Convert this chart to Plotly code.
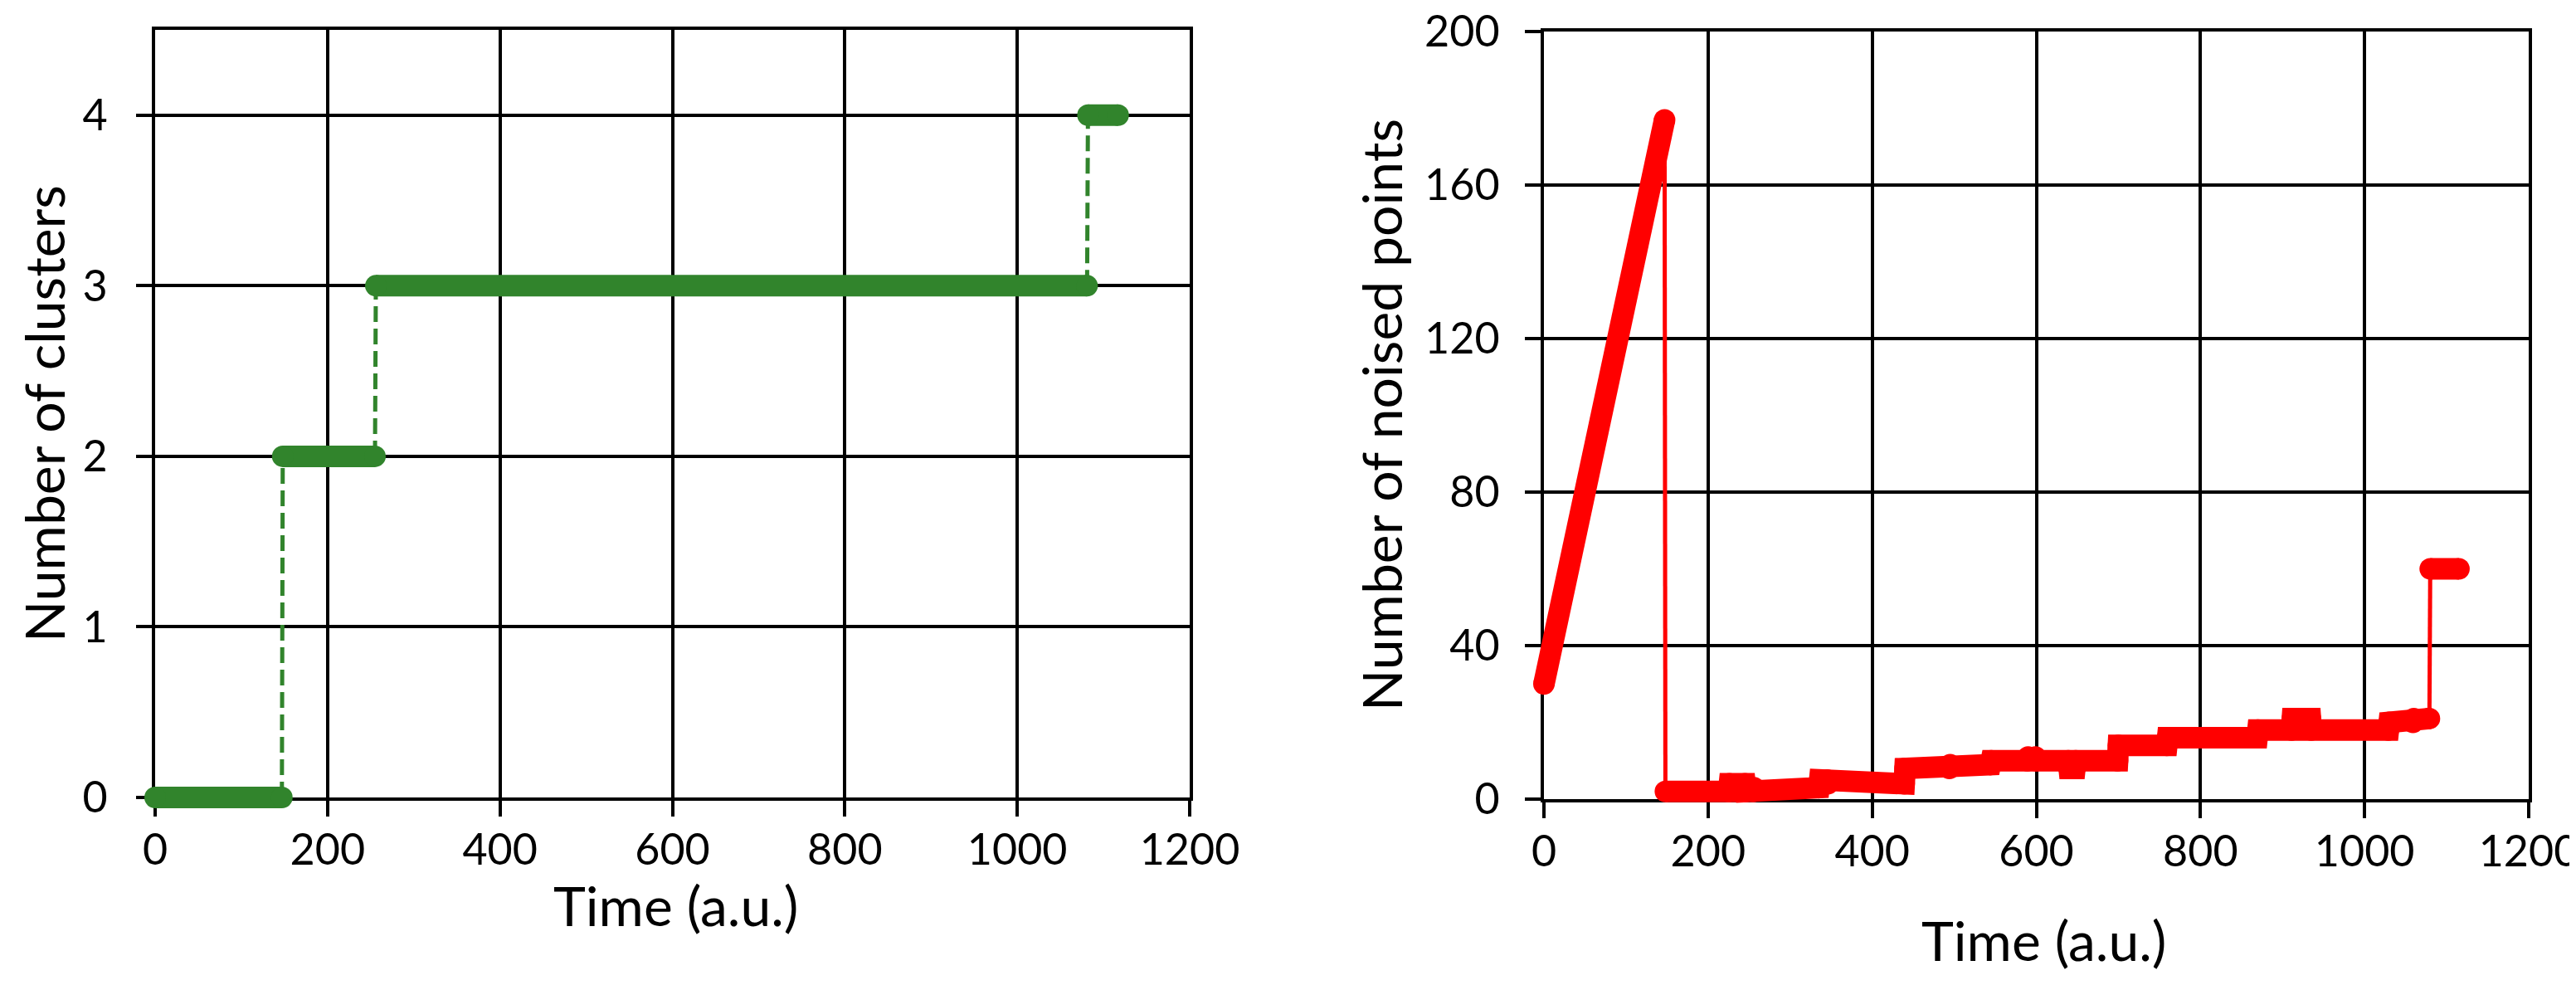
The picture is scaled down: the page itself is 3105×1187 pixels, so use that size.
import plotly.graph_objects as go

# ---------------- data ----------------
time_ticks = [0, 200, 400, 600, 800, 1000, 1200]
cluster_ticks = [0, 1, 2, 3, 4]
noise_ticks = [0, 40, 80, 120, 160, 200]

# Number of clusters: constant levels (start time, end time, value)
cluster_level_start = [0, 148, 256, 1082]
cluster_level_end = [147, 255, 1081, 1117]
cluster_level_value = [0, 2, 3, 4]

# Number of noised points
noise_rise_time = [0, 147]
noise_rise_count = [30, 177]
noise_step_time = [148, 226, 246, 256, 336, 346, 440, 495, 545, 590, 600, 640, 648,
                   700, 760, 870, 912, 935, 1030, 1060, 1079]
noise_step_count = [2, 4, 2, 3, 5, 4, 8, 9, 10, 11, 10, 8, 10,
                    14, 16, 18, 21, 18, 20, 21, 21]
noise_top_time = [1080, 1115]
noise_top_count = [60, 60]

# ---------------- styling ----------------
W, H = 3105, 1187
GREEN = "#31842C"
RED = "#FF0000"
FONT = "Lato"
BAND = 26        # thickness of the dense-marker band (px)
THIN = 5         # connector width (px)
GRID = 4
PAD = 40         # extra room so thick marks may spill over the axes

# plot areas in pixels: (left, right, top, bottom)
LEFT_BOX = (179, 1426, 28, 953)
RIGHT_BOX = (1853, 3040, 30, 955)
LEFT_XR, LEFT_YR = (0, 1200), (0, 4.5)
RIGHT_XR, RIGHT_YR = (0, 1200), (0, 200)


def fx(p):
    return p / W


def fy(p):
    return 1 - p / H


def padded(box, xr, yr):
    l, r, t, b = box
    pl, pr = min(PAD, l), min(PAD, W - r)
    pt, pb = min(PAD, t), min(PAD, H - b)
    kx = (r - l) / (xr[1] - xr[0])
    ky = (b - t) / (yr[1] - yr[0])
    xdom = [fx(l - pl), fx(r + pr)]
    ydom = [fy(b + pb), fy(t - pt)]
    xrng = [xr[0] - pl / kx, xr[1] + pr / kx]
    yrng = [yr[0] - pb / ky, yr[1] + pt / ky]
    return xdom, ydom, xrng, yrng


fig = go.Figure()

# empty traces so the visible frames (gridded axes) are built
fig.add_trace(go.Scatter(x=[], y=[], xaxis="x", yaxis="y", showlegend=False))
fig.add_trace(go.Scatter(x=[], y=[], xaxis="x2", yaxis="y2", showlegend=False))

# ---- left: clusters (drawn on overlay axes x3/y3) ----
cx, cy = [], []
for i in range(len(cluster_level_value) - 1):
    cx += [cluster_level_end[i], cluster_level_start[i + 1], None]
    cy += [cluster_level_value[i], cluster_level_value[i + 1], None]
fig.add_trace(go.Scatter(x=cx, y=cy, mode="lines", xaxis="x3", yaxis="y3",
                         line=dict(color=GREEN, width=THIN, dash="19px,8px"),
                         hoverinfo="skip", showlegend=False))
bx, by = [], []
for s, e, v in zip(cluster_level_start, cluster_level_end, cluster_level_value):
    bx += [s, e, None]
    by += [v, v, None]
fig.add_trace(go.Scatter(x=bx, y=by, mode="lines+markers", xaxis="x3", yaxis="y3",
                         line=dict(color=GREEN, width=BAND),
                         marker=dict(color=GREEN, size=BAND, line=dict(width=0)),
                         showlegend=False))

# ---- right: noised points (drawn on overlay axes x4/y4) ----
nx = [noise_rise_time[-1], noise_step_time[0], None, noise_step_time[-1], noise_top_time[0]]
ny = [noise_rise_count[-1], noise_step_count[0], None, noise_step_count[-1], noise_top_count[0]]
fig.add_trace(go.Scatter(x=nx, y=ny, mode="lines", xaxis="x4", yaxis="y4",
                         line=dict(color=RED, width=THIN),
                         hoverinfo="skip", showlegend=False))
fig.add_trace(go.Scatter(x=noise_rise_time, y=noise_rise_count, mode="lines+markers",
                         xaxis="x4", yaxis="y4",
                         line=dict(color=RED, width=BAND),
                         marker=dict(color=RED, size=BAND, line=dict(width=0)),
                         showlegend=False))
# step band: each change happens between one time unit and the next
sx, sy = [noise_step_time[0]], [noise_step_count[0]]
for i in range(1, len(noise_step_time)):
    sx += [noise_step_time[i] - 1, noise_step_time[i]]
    sy += [noise_step_count[i - 1], noise_step_count[i]]
fig.add_trace(go.Scatter(x=sx, y=sy, mode="lines+markers",
                         xaxis="x4", yaxis="y4",
                         line=dict(color=RED, width=BAND),
                         marker=dict(color=RED, size=BAND, line=dict(width=0)),
                         showlegend=False))
fig.add_trace(go.Scatter(x=noise_top_time, y=noise_top_count, mode="lines+markers",
                         xaxis="x4", yaxis="y4",
                         line=dict(color=RED, width=BAND),
                         marker=dict(color=RED, size=BAND, line=dict(width=0)),
                         showlegend=False))

axis_common = dict(
    showgrid=True, gridcolor="black", gridwidth=GRID,
    showline=True, linecolor="black", linewidth=GRID, mirror=True,
    zeroline=False, ticks="outside", ticklen=19, tickwidth=GRID, tickcolor="black",
    tickfont=dict(family=FONT, size=52, color="black"),
    fixedrange=True, automargin=False, ticklabeloverflow="allow",
)
hidden = dict(visible=False, showgrid=False, zeroline=False, fixedrange=True,
              automargin=False)

lxd, lyd, lxr, lyr = padded(LEFT_BOX, LEFT_XR, LEFT_YR)
rxd, ryd, rxr, ryr = padded(RIGHT_BOX, RIGHT_XR, RIGHT_YR)

title_font = dict(family=FONT, size=66, color="black")

fig.update_layout(
    template="none",
    width=W, height=H,
    margin=dict(l=0, r=0, t=0, b=0, pad=0, autoexpand=False),
    paper_bgcolor="white", plot_bgcolor="rgba(0,0,0,0)",
    font=dict(family=FONT, color="black"),
    xaxis=dict(domain=[fx(LEFT_BOX[0]), fx(LEFT_BOX[1])], range=list(LEFT_XR),
               tickvals=time_ticks, anchor="y", ticklabelstandoff=-4, **axis_common),
    yaxis=dict(domain=[fy(LEFT_BOX[3]), fy(LEFT_BOX[2])], range=list(LEFT_YR),
               tickvals=cluster_ticks, anchor="x", ticklabelstandoff=24, **axis_common),
    xaxis2=dict(domain=[fx(RIGHT_BOX[0]), fx(RIGHT_BOX[1])], range=list(RIGHT_XR),
                tickvals=time_ticks, anchor="y2", ticklabelstandoff=-4, **axis_common),
    yaxis2=dict(domain=[fy(RIGHT_BOX[3]), fy(RIGHT_BOX[2])],
                range=[RIGHT_YR[0], RIGHT_YR[1] + 0.02],
                tickvals=noise_ticks, anchor="x2", ticklabelstandoff=20, **axis_common),
    xaxis3=dict(domain=lxd, range=lxr, anchor="y3", **hidden),
    yaxis3=dict(domain=lyd, range=lyr, anchor="x3", **hidden),
    xaxis4=dict(domain=rxd, range=rxr, anchor="y4", **hidden),
    yaxis4=dict(domain=ryd, range=ryr, anchor="x4", **hidden),
    annotations=[
        dict(text="Time (a.u.)", x=fx(806), y=fy(1082), xref="paper", yref="paper",
             showarrow=False, xanchor="center", yanchor="middle", font=title_font),
        dict(text="Time (a.u.)", x=fx(2455), y=fy(1124), xref="paper", yref="paper",
             showarrow=False, xanchor="center", yanchor="middle", font=title_font),
        dict(text="Number of clusters", x=fx(44), y=fy(491), xref="paper", yref="paper",
             showarrow=False, xanchor="center", yanchor="middle", textangle=-90,
             font=title_font),
        dict(text="Number of noised points", x=fx(1656), y=fy(492), xref="paper",
             yref="paper", showarrow=False, xanchor="center", yanchor="middle",
             textangle=-90, font=title_font),
    ],
)

fig.write_html("out.html")
